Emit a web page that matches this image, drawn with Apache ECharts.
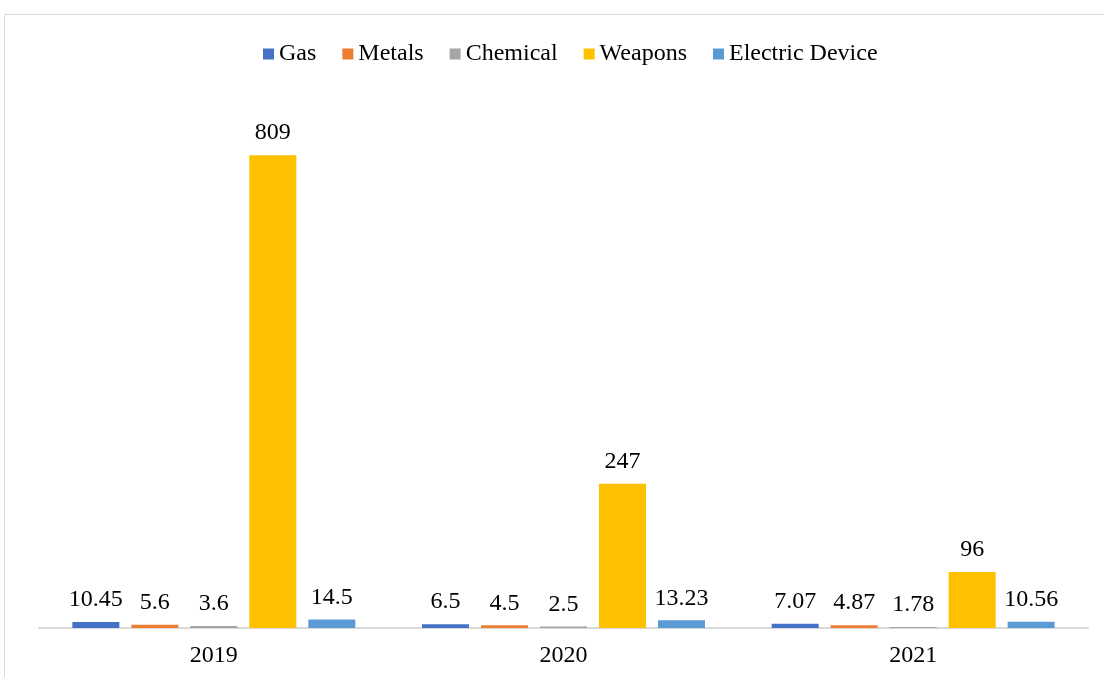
<!DOCTYPE html>
<html>
<head>
<meta charset="utf-8">
<script src="https://cdn.jsdelivr.net/npm/echarts@6/dist/echarts.min.js"></script>
<style>
  html, body { margin: 0; padding: 0; background: #fff; }
  #chart { width: 1104px; height: 677px; }
</style>
</head>
<body>
<div id="chart"></div>
<script>
// Yearly figures by product group
const years = ['2019', '2020', '2021'];
const gas = [10.45, 6.5, 7.07];
const metals = [5.6, 4.5, 4.87];
const chemical = [3.6, 2.5, 1.78];
const weapons = [809, 247, 96];
const electricDevice = [14.5, 13.23, 10.56];

const seriesDefs = [
  { name: 'Gas', data: gas, color: '#4472C4' },
  { name: 'Metals', data: metals, color: '#ED7D31' },
  { name: 'Chemical', data: chemical, color: '#A5A5A5' },
  { name: 'Weapons', data: weapons, color: '#FFC000' },
  { name: 'Electric Device', data: electricDevice, color: '#5B9BD5' }
];

const FONT = '"Liberation Serif", "Times New Roman", serif';

const chart = echarts.init(document.getElementById('chart'), null, { renderer: 'canvas' });

chart.setOption({
  animation: false,
  backgroundColor: '#fff',
  graphic: [{
    type: 'rect',
    shape: { x: 4.5, y: 14.5, width: 1120, height: 700 },
    style: { fill: 'none', stroke: '#d9d9d9', lineWidth: 1 },
    silent: true,
    z: -1
  }],
  legend: {
    top: 37,
    left: 258,
    itemWidth: 11,
    itemHeight: 11,
    itemGap: 26,
    icon: 'rect',
    textStyle: { fontFamily: FONT, fontSize: 24, color: '#000' },
    data: seriesDefs.map(s => s.name)
  },
  grid: { left: 39, right: 16, top: 102, bottom: 49, containLabel: false },
  xAxis: {
    type: 'category',
    data: years,
    axisLine: { lineStyle: { color: '#d9d9d9', width: 2 } },
    axisTick: { show: false },
    axisLabel: { fontFamily: FONT, fontSize: 24, color: '#000', margin: 16 }
  },
  yAxis: {
    type: 'value',
    min: 0,
    max: 900,
    show: false,
    splitLine: { show: false }
  },
  series: seriesDefs.map(s => ({
    type: 'bar',
    name: s.name,
    data: s.data,
    barWidth: 47,
    barGap: '25.5%',
    itemStyle: { color: s.color },
    label: {
      show: true,
      position: 'top',
      distance: 10,
      fontFamily: FONT,
      fontSize: 24,
      color: '#000'
    }
  }))
});
</script>
</body>
</html>
